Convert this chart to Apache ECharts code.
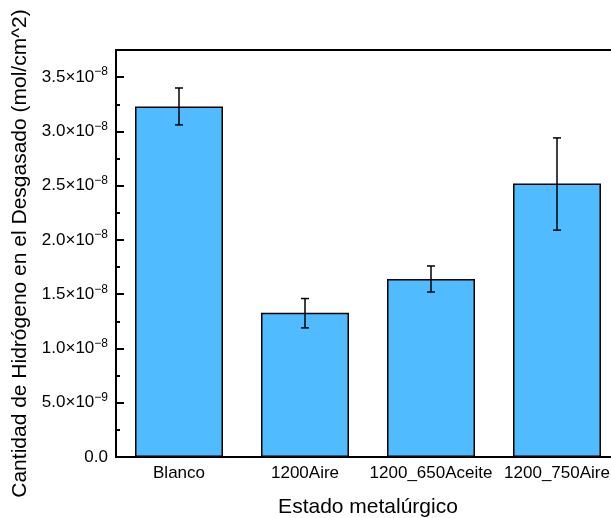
<!DOCTYPE html>
<html>
<head>
<meta charset="utf-8">
<script src="https://cdn.jsdelivr.net/npm/echarts@6/dist/echarts.min.js"></script>
<style>
  html, body { margin: 0; padding: 0; background: #fff; }
</style>
</head>
<body>
<div id="chart" style="width: 611px; height: 518px;"></div>
<script>
// categorias y datos
const categories = ['Blanco', '1200Aire', '1200_650Aceite', '1200_750Aire']
const hydrogen = [3.23e-8, 1.33e-8, 1.64e-8, 2.52e-8]
const errLow = [3.06e-8, 1.19e-8, 1.52e-8, 2.09e-8]
const errHigh = [3.40e-8, 1.46e-8, 1.76e-8, 2.94e-8]

const FONT = '"Liberation Sans", Arial, sans-serif'

function tickLabel(v) {
  if (v === 0) return '0.0'
  const exp = Math.floor(Math.log10(v) + 1e-9)
  const mant = (v / Math.pow(10, exp)).toFixed(1)
  return mant + '×10{sup|−' + (-exp) + '}'
}

const myChart = echarts.init(document.getElementById('chart'))

const option = {
  animation: false,
  grid: {
    left: 116,
    top: 50,
    width: 504,
    height: 407,
    outerBoundsMode: 'none',
    containLabel: false,
    show: true,
    borderColor: '#000',
    borderWidth: 2,
    backgroundColor: 'transparent'
  },
  xAxis: {
    type: 'category',
    data: categories,
    name: 'Estado metalúrgico',
    nameLocation: 'middle',
    nameGap: 40,
    nameTextStyle: { fontFamily: FONT, fontSize: 21, color: '#000' },
    axisLine: { lineStyle: { color: '#000', width: 2 } },
    axisTick: { show: false },
    axisLabel: { fontFamily: FONT, fontSize: 17, color: '#000', margin: 8, interval: 0 }
  },
  yAxis: {
    type: 'value',
    min: 0,
    max: 3.75e-8,
    interval: 0.5e-8,
    name: 'Cantidad de Hidrógeno en el Desgasado (mol/cm^2)',
    nameLocation: 'middle',
    nameGap: 84,
    nameTextStyle: { fontFamily: FONT, fontSize: 21, color: '#000' },
    axisLine: { show: true, lineStyle: { color: '#000', width: 2 } },
    axisTick: { show: true, inside: true, length: 8, lineStyle: { color: '#000', width: 2 } },
    minorTick: { show: true, splitNumber: 2, length: 4, lineStyle: { color: '#000', width: 2 } },
    splitLine: { show: false },
    axisLabel: {
      fontFamily: FONT,
      fontSize: 17,
      color: '#000',
      margin: 8,
      showMaxLabel: false,
      formatter: tickLabel,
      rich: {
        sup: { fontFamily: FONT, fontSize: 12, color: '#000', verticalAlign: 'top', padding: [0, 0, 10, 0] }
      }
    }
  },
  series: [
    {
      type: 'bar',
      data: hydrogen,
      barWidth: 88,
      itemStyle: { color: '#50BBFF', borderColor: '#000', borderWidth: 1.5 }
    },
    {
      type: 'custom',
      data: categories.map((c, i) => [i, errLow[i], errHigh[i]]),
      z: 10,
      renderItem: function(params, api) {
        const lo = api.coord([api.value(0), api.value(1)])
        const hi = api.coord([api.value(0), api.value(2)])
        const w = 4
        const style = { stroke: '#000', lineWidth: 1.5 }
        return {
          type: 'group',
          children: [
            { type: 'line', shape: { x1: hi[0], y1: hi[1], x2: lo[0], y2: lo[1] }, style: style },
            { type: 'line', shape: { x1: hi[0] - w, y1: hi[1], x2: hi[0] + w, y2: hi[1] }, style: style },
            { type: 'line', shape: { x1: lo[0] - w, y1: lo[1], x2: lo[0] + w, y2: lo[1] }, style: style }
          ]
        }
      }
    }
  ]
}

myChart.setOption(option)
</script>
</body>
</html>
